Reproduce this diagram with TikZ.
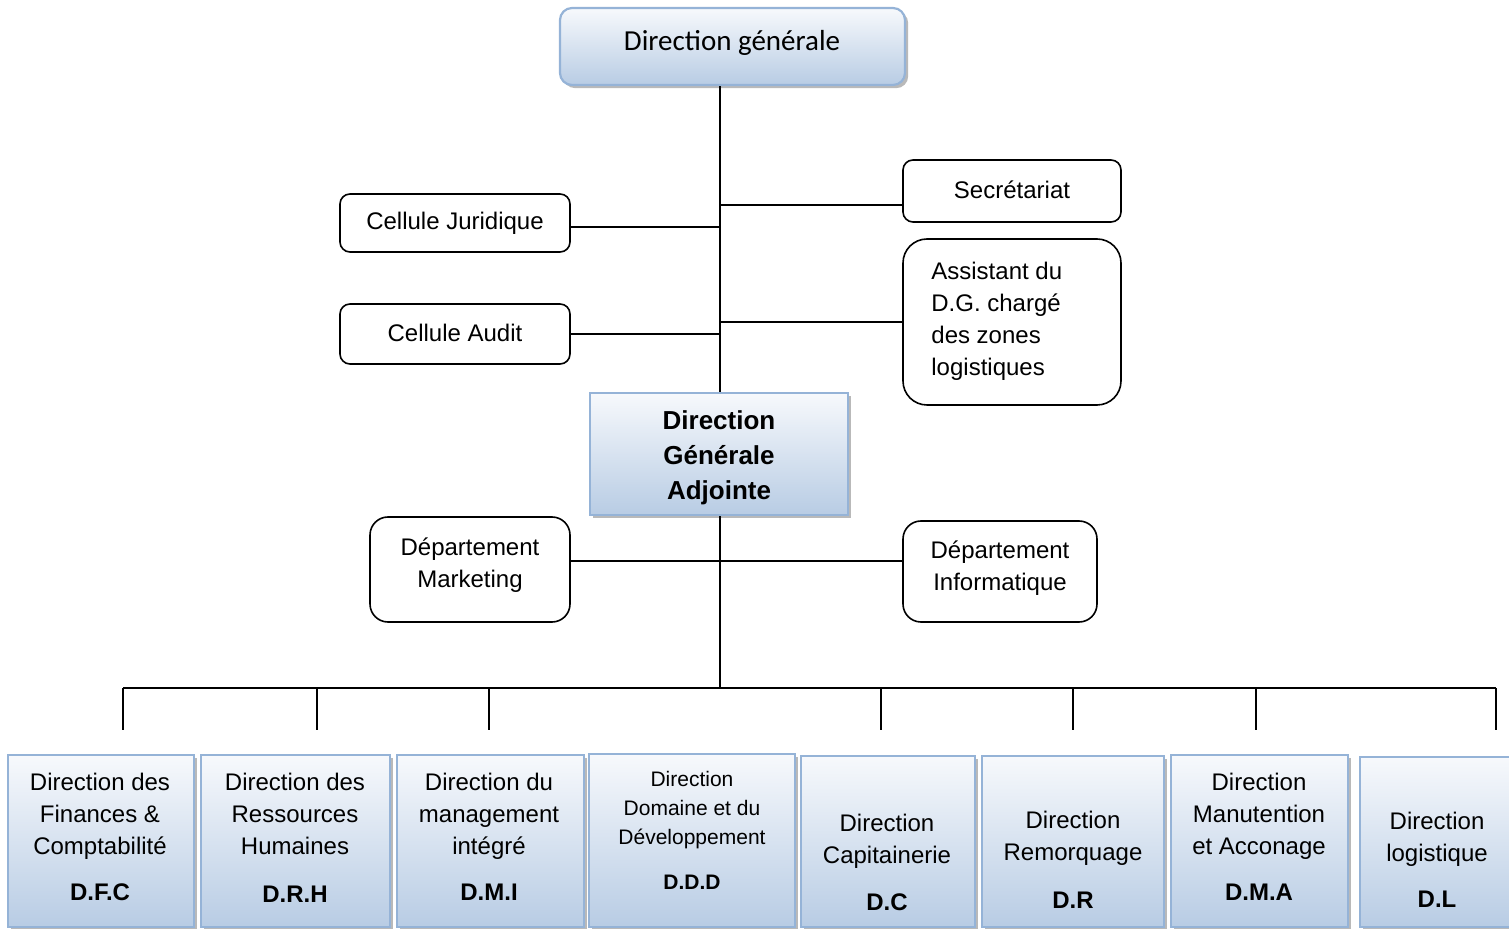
\documentclass[tikz,border=0pt]{standalone}
\usepackage{fontspec}
\setmainfont{Liberation Sans}
\newfontfamily\calibri{Carlito}
\usetikzlibrary{shadows,fit}
\definecolor{boxblue}{RGB}{149,179,215}
\definecolor{topc}{RGB}{247,249,252}
\definecolor{botc}{RGB}{184,204,228}
\begin{document}
\begin{tikzpicture}[x=0.5pt,y=-0.5pt,
  unit/.style={draw=boxblue, line width=1.1pt, top color=topc, bottom color=botc, inner sep=0pt,
    drop shadow={shadow xshift=1.6pt, shadow yshift=-1.6pt, fill=black!50, opacity=0.55}},
  rbox/.style={draw=black, line width=0.8pt, rounded corners=5pt, fill=white, inner sep=0pt},
  txt/.style={align=center, inner sep=0pt, font=\fontsize{12}{16}\selectfont},
  small/.style={align=center, inner sep=0pt, font=\fontsize{10.5}{14.5}\selectfont},
  wire/.style={line width=1pt, draw=black}]
\useasboundingbox (0,0) rectangle (1509,929);

% top level
\node[unit, rounded corners=6pt, fit={(560,8) (905,85)}] (dg) {};
\node[inner sep=0pt, font=\calibri\fontsize{14.5}{17}\selectfont] (dgt) at (732,43) {Direction générale};

\node[rbox, fit={(903,160) (1121,222)}] (sec) {};
\node[txt] (sect) at (1012,190) {Secrétariat};
\node[rbox, fit={(340,194) (570,252)}] (jur) {};
\node[txt] (jurt) at (455,223) {Cellule Juridique};
\node[rbox, rounded corners=12pt, fit={(903,239) (1121,405)}] (ass) {};
\node[txt, align=left, anchor=west] (asst) at (931,321) {Assistant du\\D.G. chargé\\des zones\\logistiques};
\node[rbox, fit={(340,304) (570,364)}] (aud) {};
\node[txt] (audt) at (455,333) {Cellule Audit};

\node[unit, fit={(590,393) (848,515)}] (dga) {};
\node[txt, font=\bfseries\fontsize{13}{17.5}\selectfont] (dgat) at (719,458) {Direction\\Générale\\Adjointe};

\node[rbox, rounded corners=9pt, fit={(370,517) (570,622)}] (mkt) {};
\node[txt] (mktt) at (470,565) {Département\\Marketing};
\node[rbox, rounded corners=9pt, fit={(903,521) (1097,622)}] (inf) {};
\node[txt] (inft) at (1000,568) {Département\\Informatique};

% bottom directions
\node[unit, fit={(8,755) (194,927)}] (dfc) {};
\node[txt] (dfct) at (100,837) {Direction des\\Finances \&\\Comptabilité\\[7pt]\textbf{D.F.C}};
\node[unit, fit={(201,755) (390,927)}] (drh) {};
\node[txt] (drht) at (295,838) {Direction des\\Ressources\\Humaines\\[8pt]\textbf{D.R.H}};
\node[unit, fit={(397,755) (584,927)}] (dmi) {};
\node[txt] (dmit) at (489,837) {Direction du\\management\\intégré\\[7pt]\textbf{D.M.I}};
\node[unit, fit={(589,754) (795,927)}] (ddd) {};
\node[small] (dddt) at (692,830.5) {Direction\\Domaine et du\\Développement\\[8pt]\textbf{D.D.D}};
\node[unit, fit={(801,756) (975,927)}] (dc) {};
\node[txt] (dct) at (887,862.5) {Direction\\Capitainerie\\[7.5pt]\textbf{D.C}};
\node[unit, fit={(982,756) (1164,927)}] (dr) {};
\node[txt] (drt) at (1073,859.5) {Direction\\Remorquage\\[8pt]\textbf{D.R}};
\node[unit, fit={(1171,755) (1348,927)}] (dma) {};
\node[txt] (dmat) at (1259,837) {Direction\\Manutention\\et Acconage\\[7pt]\textbf{D.M.A}};
\node[unit, fit={(1360,757) (1520,927)}] (dl) {};
\node[txt] (dlt) at (1437,860) {Direction\\logistique\\[7pt]\textbf{D.L}};

% connectors
\coordinate (sp) at (720,0);
\coordinate (ysec) at (0,205);
\coordinate (yjur) at (0,227);
\coordinate (ydept) at (0,561);
\coordinate (bus) at (720,688);
\draw[wire] (dg.south -| sp) -- (dga.north -| sp);
\draw[wire] (sec.west |- ysec) -- (sp |- ysec);
\draw[wire] (jur.east |- yjur) -- (sp |- yjur);
\draw[wire] (ass.west) -- (ass.west -| sp);
\draw[wire] (aud.east) -- (aud.east -| sp);
\draw[wire] (dga.south -| sp) -- (bus);
\draw[wire] (mkt.east |- ydept) -- (inf.west |- ydept);

\coordinate (d1) at (123,730);
\coordinate (d2) at (317,730);
\coordinate (d3) at (489,730);
\coordinate (d5) at (881,730);
\coordinate (d6) at (1073,730);
\coordinate (d7) at (1256,730);
\coordinate (d8) at (1496,730);
\draw[wire] (d1 |- bus) -- (d8 |- bus);
\foreach \d in {d1,d2,d3,d5,d6,d7,d8} \draw[wire] (\d |- bus) -- (\d);
\end{tikzpicture}
\end{document}
